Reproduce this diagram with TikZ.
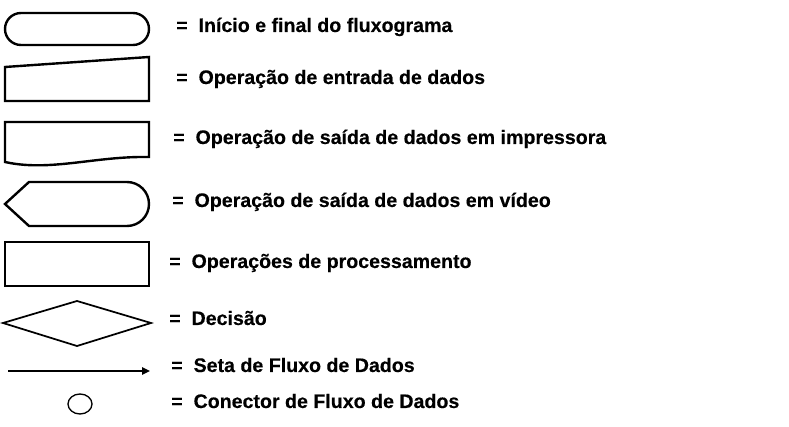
\documentclass[tikz,border=0pt]{standalone}
\usepackage{fontspec}
\setmainfont{Liberation Sans}[BoldFeatures={FakeBold=0.3}]
\usetikzlibrary{arrows.meta,shapes.geometric}
\begin{document}
\begin{tikzpicture}[x=0.75pt,y=-0.75pt,
  shp/.style={line width=1.8pt, line join=miter},
  thin shp/.style={line width=1.3pt},
  lbl/.style={anchor=base west, inner sep=0pt, font=\fontsize{14.7}{17}\selectfont\bfseries}]
\useasboundingbox (0,0) rectangle (789,427);
% 1 terminator
\draw[shp] (21,13) -- (133,13) arc[start angle=-90, end angle=90, radius=16] -- (21,45) arc[start angle=90, end angle=270, radius=16] -- cycle;
\node[lbl] (t1) at (176,32) {=\ \ Início e final do fluxograma};
% 2 manual input
\draw[shp] (5,67) -- (149,57) -- (149,101) -- (5,101) -- cycle;
\node[lbl] (t2) at (176,84) {=\ \ Operação de entrada de dados};
% 3 document
\draw[shp] (5,122) -- (149,122) -- (149,157) .. controls (95,156) and (50,172) .. (5,162) -- cycle;
\node[lbl] (t3) at (173,144) {=\ \ Operação de saída de dados em impressora};
% 4 display
\draw[shp] (5,204) -- (29,182) -- (127,182) arc[start angle=-90, end angle=90, radius=22] -- (29,226) -- cycle;
\node[lbl] (t4) at (172,207) {=\ \ Operação de saída de dados em vídeo};
% 5 process
\draw[shp] (5,242) rectangle (149,286);
\node[lbl] (t5) at (169,268) {=\ \ Operações de processamento};
% 6 decision
\draw[thin shp] (3,323) -- (77,301) -- (151,323) -- (77,346) -- cycle;
\node[lbl] (t6) at (169,325) {=\ \ Decisão};
% 7 arrow
\coordinate (a1) at (8,371);
\coordinate (a2) at (150,371);
\draw[thin shp, -{Triangle[length=6pt,width=5.5pt]}] (a1) -- (a2);
\node[lbl] (t7) at (171,372) {=\ \ Seta de Fluxo de Dados};
% 8 connector
\draw[line width=1pt] (80,404) ellipse [x radius=12, y radius=10];
\node[lbl] (t8) at (171,408) {=\ \ Conector de Fluxo de Dados};
\end{tikzpicture}
\end{document}
